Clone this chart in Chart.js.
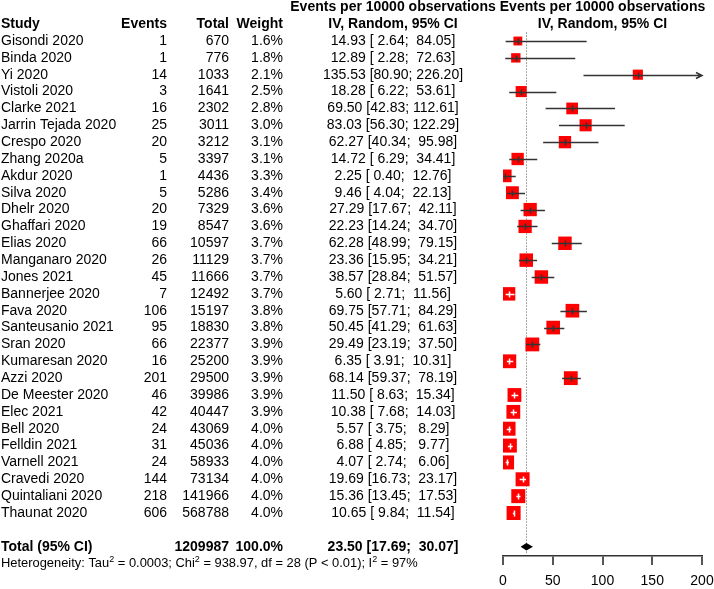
<!DOCTYPE html>
<html>
<head>
<meta charset="utf-8">
<script src="https://cdn.jsdelivr.net/npm/chart.js@4.4.1/dist/chart.umd.min.js"></script>
<style>
  html, body { margin: 0; padding: 0; background: #fff; }
  #forest { display: block; }
</style>
</head>
<body>
<canvas id="forest" width="714" height="589"></canvas>
<script>
//  Data 
const studies = ['Gisondi 2020', 'Binda 2020', 'Yi 2020', 'Vistoli 2020', 'Clarke 2021',
  'Jarrin Tejada 2020', 'Crespo 2020', 'Zhang 2020a', 'Akdur 2020', 'Silva 2020',
  'Dhelr 2020', 'Ghaffari 2020', 'Elias 2020', 'Manganaro 2020', 'Jones 2021',
  'Bannerjee 2020', 'Fava 2020', 'Santeusanio 2021', 'Sran 2020', 'Kumaresan 2020',
  'Azzi 2020', 'De Meester 2020', 'Elec 2021', 'Bell 2020', 'Felldin 2021',
  'Varnell 2021', 'Cravedi 2020', 'Quintaliani 2020', 'Thaunat 2020'];
const events  = [1, 1, 14, 3, 16, 25, 20, 5, 1, 5, 20, 19, 66, 26, 45, 7, 106, 95, 66, 16,
  201, 46, 42, 24, 31, 24, 144, 218, 606];
const totals  = [670, 776, 1033, 1641, 2302, 3011, 3212, 3397, 4436, 5286, 7329, 8547, 10597,
  11129, 11666, 12492, 15197, 18830, 22377, 25200, 29500, 39986, 40447, 43069, 45036,
  58933, 73134, 141966, 568788];
const weights = [1.6, 1.8, 2.1, 2.5, 2.8, 3.0, 3.1, 3.1, 3.3, 3.4, 3.6, 3.6, 3.7, 3.7, 3.7,
  3.7, 3.8, 3.8, 3.9, 3.9, 3.9, 3.9, 3.9, 4.0, 4.0, 4.0, 4.0, 4.0, 4.0];
const estimates = [14.93, 12.89, 135.53, 18.28, 69.50, 83.03, 62.27, 14.72, 2.25, 9.46,
  27.29, 22.23, 62.28, 23.36, 38.57, 5.60, 69.75, 50.45, 29.49, 6.35, 68.14, 11.50,
  10.38, 5.57, 6.88, 4.07, 19.69, 15.36, 10.65];
const lowerCI = [2.64, 2.28, 80.90, 6.22, 42.83, 56.30, 40.34, 6.29, 0.40, 4.04, 17.67,
  14.24, 48.99, 15.95, 28.84, 2.71, 57.71, 41.29, 23.19, 3.91, 59.37, 8.63, 7.68, 3.75,
  4.85, 2.74, 16.73, 13.45, 9.84];
const upperCI = [84.05, 72.63, 226.20, 53.61, 112.61, 122.29, 95.98, 34.41, 12.76, 22.13,
  42.11, 34.70, 79.15, 34.21, 51.57, 11.56, 84.29, 61.63, 37.50, 10.31, 78.19, 15.34,
  14.03, 8.29, 9.77, 6.06, 23.17, 17.53, 11.54];

const pooled      = [23.50, 17.69, 30.07];   // est, lower, upper
const pooledTotal = 1209987;
const pooledWeight = 100.0;
const heterogeneity = { tau2: '0.0003', chi2: '938.97', df: 28, p: '< 0.01', i2: '97%' };
const xTicks = [0, 50, 100, 150, 200];

//  Helpers 
const FONT = "'Liberation Sans', Arial, Helvetica, sans-serif";
const FS = 14;
const TOTAL_ROW = studies.length + 1;

function fmtCI(e, lo, hi) {
  return e.toFixed(2) + ' [' + lo.toFixed(2).padStart(5, ' ') + '; ' +
    hi.toFixed(2).padStart(6, ' ') + ']';
}

function boxSide(w) { return 14 * Math.sqrt(w / 4); }

//  Forest plugin (CI lines, diamond, table text) 
const forestPlugin = {
  id: 'forest',
  beforeDatasetsDraw(chart) {
    const { ctx } = chart;
    const xs = chart.scales.x, ys = chart.scales.y;
    const x = Math.round(xs.getPixelForValue(pooled[0])) + 0.5;
    ctx.save();
    ctx.strokeStyle = '#555';
    ctx.lineWidth = 1;
    ctx.setLineDash([1, 2]);
    ctx.beginPath();
    ctx.moveTo(x, ys.getPixelForValue(-0.5));
    ctx.lineTo(x, ys.getPixelForValue(TOTAL_ROW + 0.35));
    ctx.stroke();
    ctx.restore();
  },
  afterDatasetsDraw(chart) {
    const { ctx } = chart;
    const xs = chart.scales.x, ys = chart.scales.y;
    const xMax = xs.getPixelForValue(xs.max);
    ctx.save();
    ctx.lineWidth = 1.5;
    estimates.forEach((e, i) => {
      const y = Math.round(ys.getPixelForValue(i)) + 0.5;
      const xl = xs.getPixelForValue(lowerCI[i]);
      const xh = xs.getPixelForValue(upperCI[i]);
      const xe = xs.getPixelForValue(e);
      const half = boxSide(weights[i]) / 2;
      const inside = xl >= xe - half && xh <= xe + half;
      ctx.strokeStyle = inside ? '#fff' : '#333';
      const xEnd = Math.min(xh, xMax);
      ctx.beginPath();
      ctx.moveTo(xl, y);
      ctx.lineTo(xEnd, y);
      // small vertical mark at the estimate
      ctx.moveTo(Math.round(xe) + 0.5, y - 3);
      ctx.lineTo(Math.round(xe) + 0.5, y + 3);
      if (xh > xMax) {
        ctx.moveTo(xMax - 6, y - 3);
        ctx.lineTo(xMax, y);
        ctx.lineTo(xMax - 6, y + 3);
      }
      ctx.stroke();
    });
    // pooled diamond
    const yd = ys.getPixelForValue(TOTAL_ROW);
    ctx.fillStyle = '#000';
    ctx.beginPath();
    ctx.moveTo(xs.getPixelForValue(pooled[1]), yd);
    ctx.lineTo(xs.getPixelForValue(pooled[0]), yd - 3.8);
    ctx.lineTo(xs.getPixelForValue(pooled[2]), yd);
    ctx.lineTo(xs.getPixelForValue(pooled[0]), yd + 3.8);
    ctx.closePath();
    ctx.fill();
    ctx.restore();
  },
  afterDraw(chart) {
    const { ctx } = chart;
    const ys = chart.scales.y, xs = chart.scales.x;
    const colStudy = 1, colEvents = 167, colTotal = 229, colWeight = 283, colCI = 393;
    const colPlot = xs.getPixelForValue(100);
    const norm = FS + 'px ' + FONT, bold = 'bold ' + FS + 'px ' + FONT;
    ctx.save();
    ctx.fillStyle = '#000';
    ctx.textBaseline = 'middle';

    function put(text, x, y, align, font) {
      ctx.font = font;
      ctx.textAlign = align;
      ctx.fillText(text, x, y);
    }

    // headers
    let y = ys.getPixelForValue(-2);
    put('Events per 10000 observations', colCI, y, 'center', bold);
    put('Events per 10000 observations', colPlot, y, 'center', bold);
    y = ys.getPixelForValue(-1);
    put('Study', colStudy, y, 'left', bold);
    put('Events', colEvents, y, 'right', bold);
    put('Total', colTotal, y, 'right', bold);
    put('Weight', colWeight, y, 'right', bold);
    put('IV, Random, 95% CI', colCI, y, 'center', bold);
    put('IV, Random, 95% CI', colPlot, y, 'center', bold);

    // study rows
    studies.forEach((s, i) => {
      const yy = ys.getPixelForValue(i);
      put(s, colStudy, yy, 'left', norm);
      put(String(events[i]), colEvents, yy, 'right', norm);
      put(String(totals[i]), colTotal, yy, 'right', norm);
      put(weights[i].toFixed(1) + '%', colWeight, yy, 'right', norm);
      put(fmtCI(estimates[i], lowerCI[i], upperCI[i]), colCI, yy, 'center', norm);
    });

    // total row
    y = ys.getPixelForValue(TOTAL_ROW);
    put('Total (95% CI)', colStudy, y, 'left', bold);
    put(String(pooledTotal), colTotal, y, 'right', bold);
    put(pooledWeight.toFixed(1) + '%', colWeight, y, 'right', bold);
    put(fmtCI(pooled[0], pooled[1], pooled[2]), colCI, y, 'center', bold);

    // heterogeneity line with superscripts
    y = ys.getPixelForValue(TOTAL_ROW + 1);
    const hFont = '12.9px ' + FONT, supFont = '9px ' + FONT;
    const parts = [
      ['Heterogeneity: Tau', hFont, 0], ['2', supFont, -4.5],
      [' = ' + heterogeneity.tau2 + '; Chi', hFont, 0], ['2', supFont, -4.5],
      [' = ' + heterogeneity.chi2 + ', df = ' + heterogeneity.df + ' (P ' + heterogeneity.p + '); I', hFont, 0],
      ['2', supFont, -4.5], [' = ' + heterogeneity.i2, hFont, 0]
    ];
    let x = colStudy;
    ctx.textAlign = 'left';
    parts.forEach(([t, f, dy]) => {
      ctx.font = f;
      ctx.fillText(t, x, y + dy);
      x += ctx.measureText(t).width;
    });
    ctx.restore();
  }
};

//  Chart 
const points = estimates.map((e, i) => ({ x: e, y: i }));

new Chart(document.getElementById('forest'), {
  type: 'scatter',
  data: {
    datasets: [{
      data: points,
      pointStyle: 'rect',
      pointRadius: weights.map(w => boxSide(w) / Math.SQRT2),
      backgroundColor: '#ff0000',
      borderWidth: 0
    }]
  },
  options: {
    responsive: false,
    animation: false,
    devicePixelRatio: 1,
    events: [],
    layout: { autoPadding: false, padding: { left: 503, right: 12, top: 0, bottom: 0 } },
    plugins: { legend: { display: false }, tooltip: { enabled: false } },
    scales: {
      x: {
        type: 'linear',
        min: 0,
        max: 200,
        afterBuildTicks: s => { s.ticks = xTicks.map(v => ({ value: v })); },
        border: { display: true, color: '#333', width: 1.5 },
        grid: { drawOnChartArea: false, drawTicks: true, tickLength: 9, color: '#555', lineWidth: 2 },
        ticks: { color: '#000', font: { family: FONT, size: FS }, padding: 8, maxRotation: 0, autoSkip: false },
        afterFit: s => { s.height = 33; s.paddingLeft = 0; s.paddingRight = 0; }
      },
      y: {
        type: 'linear',
        display: false,
        reverse: true,
        min: -2.432,
        max: 30.551
      }
    }
  },
  plugins: [forestPlugin]
});
</script>
</body>
</html>
